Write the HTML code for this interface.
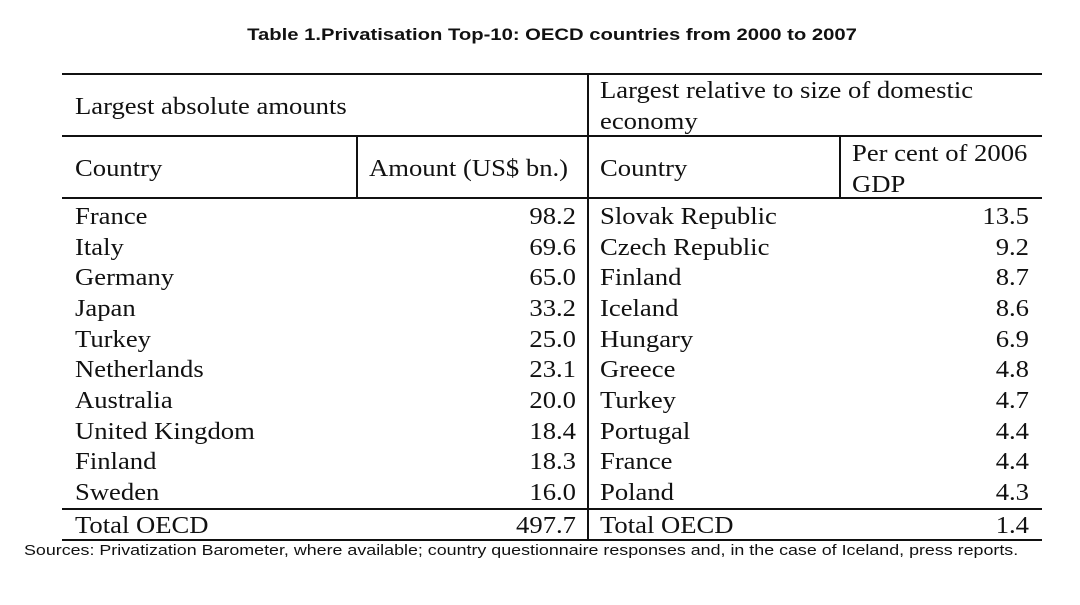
<!DOCTYPE html>
<html><head><style>
body{margin:0;width:1080px;height:605px;background:#fff;position:relative;overflow:hidden;font-family:"Liberation Serif",serif;color:#111}
.t{position:absolute;font-size:24px;white-space:nowrap;line-height:1;transform:scaleX(1.11);transform-origin:left top}
.r{text-align:right;transform-origin:right top}
.h{position:absolute;background:#111;height:2px}
.v{position:absolute;background:#111;width:2px}
</style></head><body>
<div style="position:absolute;top:25px;left:0;width:1104px;text-align:center;font:bold 17px 'Liberation Sans',sans-serif;transform:scaleX(1.19);transform-origin:552px 0">Table 1.Privatisation Top-10: OECD countries from 2000 to 2007</div>
<div class="h" style="left:62px;width:980px;top:73px"></div>
<div class="h" style="left:62px;width:980px;top:135px"></div>
<div class="h" style="left:62px;width:980px;top:197px"></div>
<div class="h" style="left:62px;width:980px;top:508px"></div>
<div class="h" style="left:62px;width:980px;top:539px"></div>
<div class="v" style="left:587px;top:73px;height:468px"></div>
<div class="v" style="left:356px;top:135px;height:63px"></div>
<div class="v" style="left:839px;top:135px;height:63px"></div>
<div class="t" style="left:75px;top:95px">Largest absolute amounts</div>
<div class="t" style="left:600px;top:79px">Largest relative to size of domestic</div>
<div class="t" style="left:600px;top:110px">economy</div>
<div class="t" style="left:75px;top:157px">Country</div>
<div class="t" style="left:369px;top:157px">Amount (US$ bn.)</div>
<div class="t" style="left:600px;top:157px">Country</div>
<div class="t" style="left:852px;top:142px">Per cent of 2006</div>
<div class="t" style="left:852px;top:173px">GDP</div>
<div id="rows"></div>
<div style="position:absolute;left:24px;top:542px;font:15px 'Liberation Sans',sans-serif;white-space:nowrap;transform:scaleX(1.19);transform-origin:0 0">Sources: Privatization Barometer, where available; country questionnaire responses and, in the case of Iceland, press reports.</div>
<script>
var d=[["France","98.2","Slovak Republic","13.5"],["Italy","69.6","Czech Republic","9.2"],["Germany","65.0","Finland","8.7"],["Japan","33.2","Iceland","8.6"],["Turkey","25.0","Hungary","6.9"],["Netherlands","23.1","Greece","4.8"],["Australia","20.0","Turkey","4.7"],["United Kingdom","18.4","Portugal","4.4"],["Finland","18.3","France","4.4"],["Sweden","16.0","Poland","4.3"],["Total OECD","497.7","Total OECD","1.4"]];
var h="";d.forEach(function(r,i){var y=205+i*30.67+(i==10?2:0);
h+='<div class="t" style="left:75px;top:'+y+'px">'+r[0]+'</div>';
h+='<div class="t r" style="left:400px;width:176px;top:'+y+'px">'+r[1]+'</div>';
h+='<div class="t" style="left:600px;top:'+y+'px">'+r[2]+'</div>';
h+='<div class="t r" style="left:900px;width:129px;top:'+y+'px">'+r[3]+'</div>';});
document.getElementById("rows").innerHTML=h;
</script>
</body></html>
